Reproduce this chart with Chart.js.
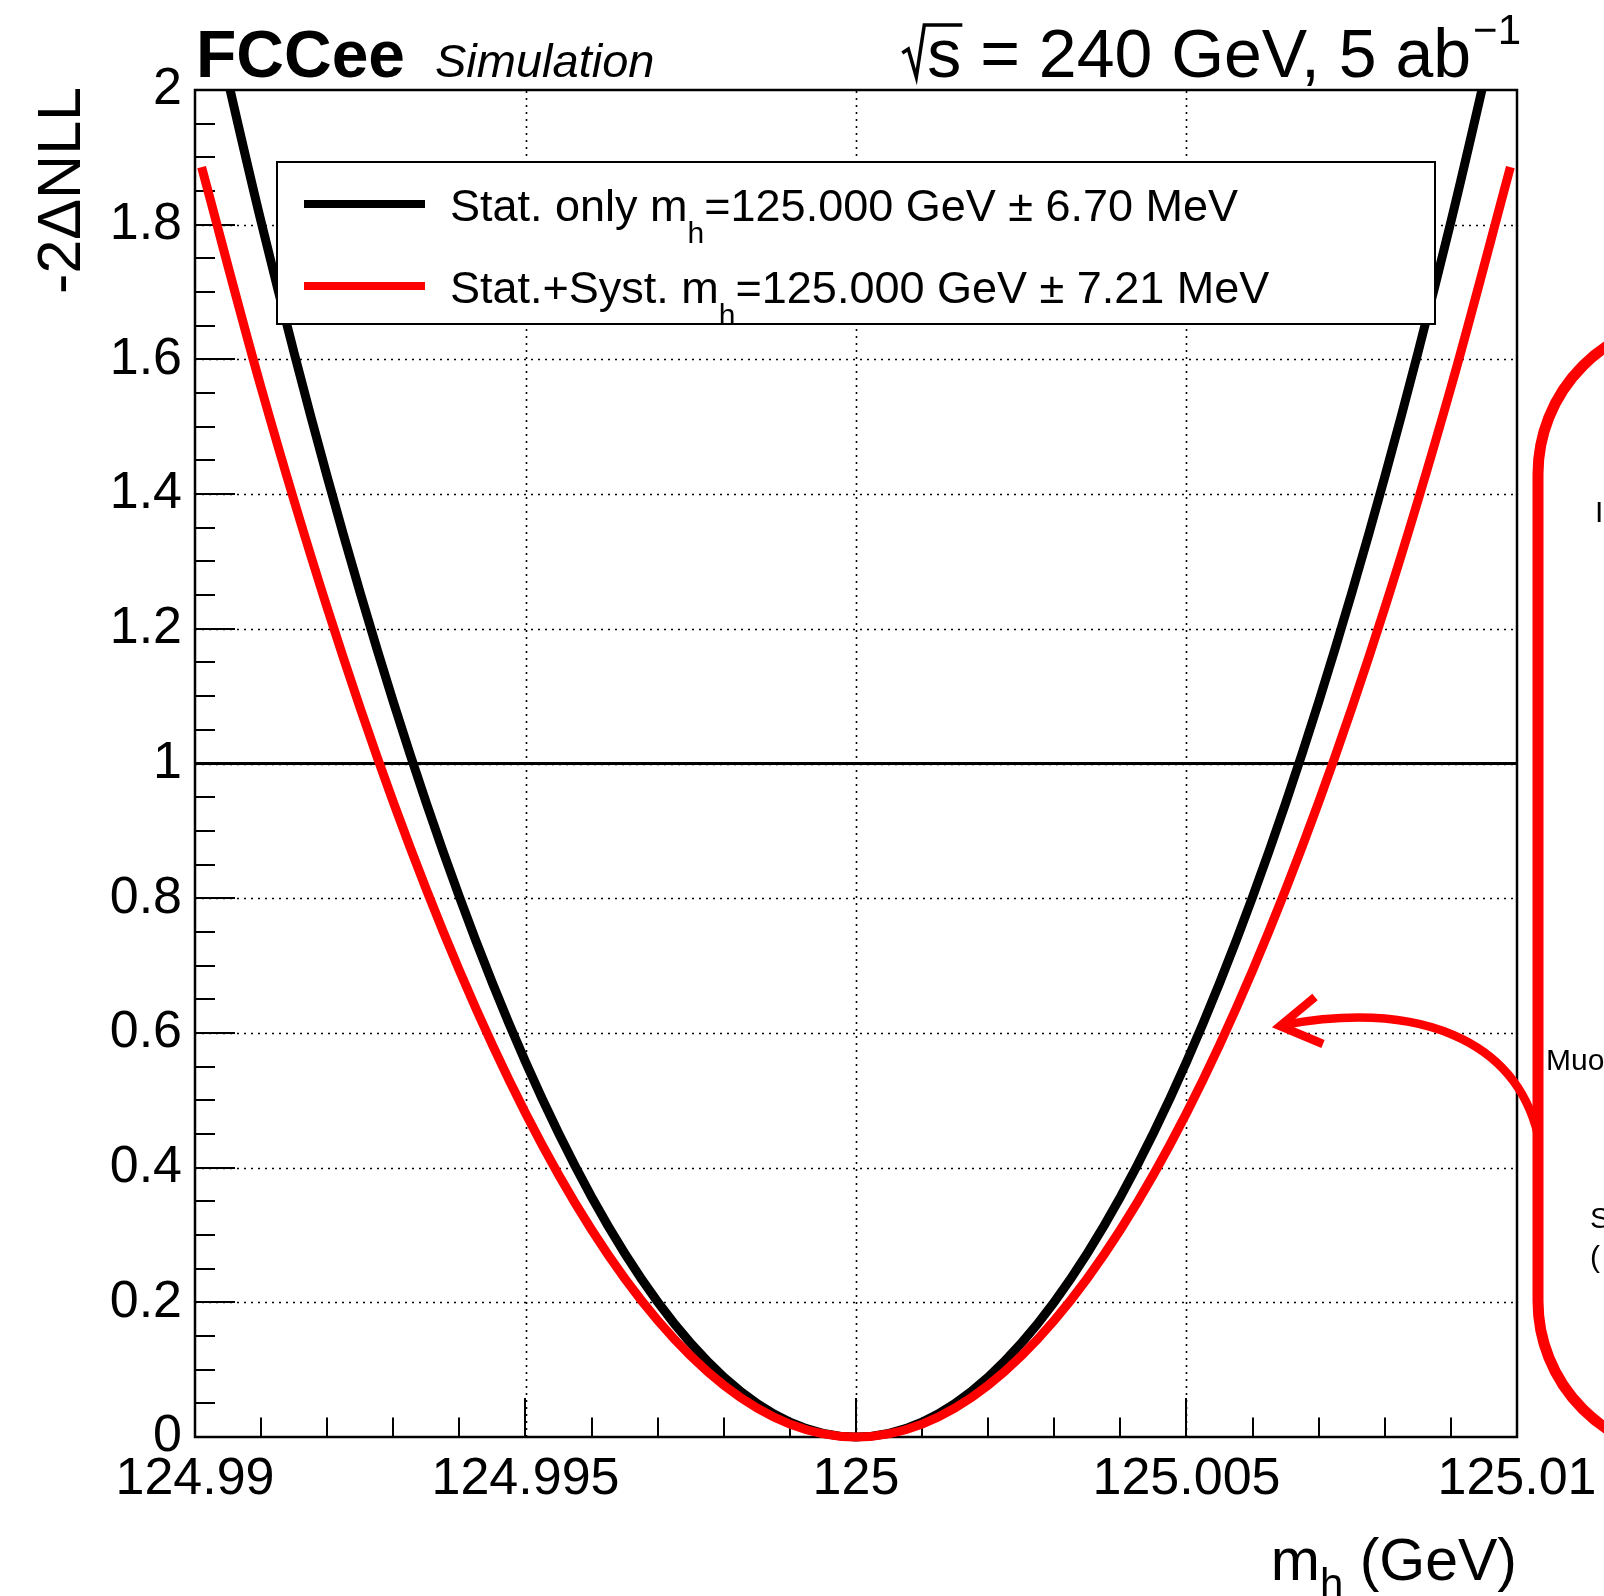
<!DOCTYPE html>
<html><head><meta charset="utf-8">
<script src="https://cdn.jsdelivr.net/npm/chart.js@4.4.1/dist/chart.umd.min.js"></script>
<style>html,body{margin:0;padding:0;background:#fff;overflow:hidden}canvas{display:block}</style>
</head><body>
<canvas id="c" width="1604" height="1596" style="width:1604px;height:1596px"></canvas>
<script>
const FONT = '"Liberation Sans", Arial, Helvetica, sans-serif';

// ---- data ----
const statOnlyMass = [124.990,124.991,124.992,124.993,124.994,124.995,124.996,124.997,124.998,124.999,125.000,
                      125.001,125.002,125.003,125.004,125.005,125.006,125.007,125.008,125.009,125.010];
const statOnlyNLL  = [2.2277,1.8044,1.4257,1.0916,0.8020,0.5569,0.3564,0.2005,0.0891,0.0223,0.0000,
                      0.0223,0.0891,0.2005,0.3564,0.5569,0.8020,1.0916,1.4257,1.8044,2.2277];
const statSystMass = [124.9901,124.991,124.992,124.993,124.994,124.995,124.996,124.997,124.998,124.999,125.000,
                      125.001,125.002,125.003,125.004,125.005,125.006,125.007,125.008,125.009,125.0099];
const statSystNLL  = [1.8854,1.5581,1.2311,0.9426,0.6926,0.4809,0.3077,0.1731,0.0769,0.0192,0.0000,
                      0.0192,0.0769,0.1731,0.3077,0.4809,0.6926,0.9426,1.2311,1.5581,1.8854];
const refLineMass = [124.99, 125.01];
const refLineNLL  = [1, 1];

const xTickValues = [124.99, 124.995, 125, 125.005, 125.01];
const xTickLabels = ['124.99', '124.995', '125', '125.005', '125.01'];
const yTickValues = [0, 0.2, 0.4, 0.6, 0.8, 1, 1.2, 1.4, 1.6, 1.8, 2];
const yTickLabels = ['0', '0.2', '0.4', '0.6', '0.8', '1', '1.2', '1.4', '1.6', '1.8', '2'];
const xMinorStep = 0.001;
const yMinorStep = 0.05;

const legendNames = ['Stat. only', 'Stat.+Syst.'];
const legendCentral = ['125.000', '125.000'];
const legendUncert = ['6.70', '7.21'];
const annotationTexts = ['I', 'Muon', 'S', '('];

function pts(xs, ys) { return xs.map((x, i) => ({x: x, y: ys[i]})); }

const framePlugin = {
  id: 'frame',
  beforeDatasetsDraw(chart) {
    const {ctx, chartArea: a, scales: {x, y}} = chart;
    ctx.save();
    ctx.strokeStyle = '#000';
    // dotted grid
    ctx.lineWidth = 1.6;
    ctx.setLineDash([2, 5]);
    xTickValues.slice(1, -1).forEach(v => {
      const px = Math.round(x.getPixelForValue(v)) + 0.5;
      ctx.beginPath(); ctx.moveTo(px, a.bottom); ctx.lineTo(px, a.top); ctx.stroke();
    });
    yTickValues.slice(1, -1).forEach(v => {
      const py = Math.round(y.getPixelForValue(v)) + 0.5;
      ctx.beginPath(); ctx.moveTo(a.left, py); ctx.lineTo(a.right, py); ctx.stroke();
    });
    ctx.setLineDash([]);
    // inward ticks
    ctx.lineWidth = 2;
    const nx = Math.round((x.max - x.min) / xMinorStep);
    for (let i = 1; i < nx; i++) {
      const v = x.min + i * xMinorStep;
      const major = i % 5 === 0;
      const px = Math.round(x.getPixelForValue(v));
      ctx.beginPath(); ctx.moveTo(px, a.bottom); ctx.lineTo(px, a.bottom - (major ? 39 : 19.5)); ctx.stroke();
    }
    const ny = Math.round((y.max - y.min) / yMinorStep);
    for (let i = 1; i < ny; i++) {
      const v = y.min + i * yMinorStep;
      const major = i % 4 === 0;
      const py = Math.round(y.getPixelForValue(v));
      ctx.beginPath(); ctx.moveTo(a.left, py); ctx.lineTo(a.left + (major ? 40 : 20), py); ctx.stroke();
    }
    // frame
    ctx.lineWidth = 2.5;
    ctx.strokeRect(a.left, a.top, a.right - a.left, a.bottom - a.top);
    ctx.restore();
  }
};

const overlayPlugin = {
  id: 'overlay',
  afterDraw(chart) {
    const {ctx, chartArea: a} = chart;
    ctx.save();
    ctx.fillStyle = '#000';
    ctx.textBaseline = 'alphabetic';
    // ---- legend ----
    ctx.fillStyle = '#fff';
    ctx.fillRect(277, 162, 1158, 162);
    ctx.strokeStyle = '#000'; ctx.lineWidth = 2;
    ctx.strokeRect(277, 162, 1158, 162);
    const legColors = [chart.data.datasets[1].borderColor, chart.data.datasets[0].borderColor];
    const lineYs = [204, 286];
    for (let i = 0; i < 2; i++) {
      const ly = lineYs[i];
      ctx.strokeStyle = legColors[i]; ctx.lineWidth = 8;
      ctx.beginPath(); ctx.moveTo(304, ly); ctx.lineTo(425, ly); ctx.stroke();
      ctx.fillStyle = '#000';
      let tx = 450; const base = ly + 17;
      ctx.font = '45px ' + FONT;
      const t1 = legendNames[i] + ' m';
      ctx.fillText(t1, tx, base); tx += ctx.measureText(t1).width;
      ctx.font = '30px ' + FONT;
      ctx.fillText('h', tx, base + 22); tx += ctx.measureText('h').width;
      ctx.font = '45px ' + FONT;
      ctx.fillText('=' + legendCentral[i] + ' GeV \u00B1 ' + legendUncert[i] + ' MeV', tx, base);
    }
    // ---- header ----
    ctx.fillStyle = '#000';
    ctx.font = 'bold 66px ' + FONT;
    ctx.fillText('FCCee', 196, 77);
    ctx.font = 'italic 47px ' + FONT;
    ctx.fillText('Simulation', 435, 77);
    // right header: sqrt(s) = 240 GeV, 5 ab^-1
    const hb = 77;
    ctx.font = '42px ' + FONT;
    const supW = ctx.measureText('\u22121').width;
    let xr = 1521 - supW;
    ctx.fillText('\u22121', xr, hb - 33);
    ctx.font = '68px ' + FONT;
    const mainT = ' = 240 GeV, 5 ab';
    const mW = ctx.measureText(mainT).width;
    xr -= mW + 2;
    ctx.fillText(mainT, xr, hb);
    const sW = ctx.measureText('s').width;
    const sx = xr - sW;
    ctx.fillText('s', sx, hb);
    // radical sign
    ctx.strokeStyle = '#000'; ctx.lineWidth = 3.5; ctx.lineJoin = 'miter';
    ctx.beginPath();
    ctx.moveTo(sx - 25, hb - 24);
    ctx.lineTo(sx - 19, hb - 28);
    ctx.lineTo(sx - 11, hb);
    ctx.lineTo(sx - 3, hb - 52);
    ctx.lineTo(sx + sW + 1, hb - 52);
    ctx.stroke();
    // ---- axis titles ----
    ctx.font = '59px ' + FONT;
    const gev = ' (GeV)';
    const gW = ctx.measureText(gev).width;
    const mW2 = ctx.measureText('m').width;
    ctx.font = '42px ' + FONT;
    const hW = ctx.measureText('h').width;
    let tx = a.right - gW - hW - mW2;
    ctx.font = '59px ' + FONT;
    ctx.fillText('m', tx, 1580); tx += mW2;
    ctx.font = '42px ' + FONT;
    ctx.fillText('h', tx, 1598); tx += hW;
    ctx.font = '59px ' + FONT;
    ctx.fillText(gev, tx, 1580);
    // y title
    ctx.save();
    ctx.translate(80, 87);
    ctx.rotate(-Math.PI / 2);
    ctx.textAlign = 'right';
    ctx.font = '61px ' + FONT;
    ctx.fillText('-2\u0394NLL', 0, 0);
    ctx.restore();
    // ---- right-side annotation fragment ----
    ctx.strokeStyle = '#ff0000'; ctx.lineWidth = 11; ctx.lineCap = 'butt';
    ctx.beginPath();
    ctx.arc(1691, 474, 153, Math.PI * 1.5, Math.PI, true);
    ctx.lineTo(1538, 1301);
    ctx.arc(1691, 1301, 153, Math.PI, Math.PI * 0.5, true);
    ctx.stroke();
    ctx.lineWidth = 8.5;
    ctx.beginPath();
    ctx.moveTo(1538, 1135);
    ctx.bezierCurveTo(1515, 1040, 1420, 1000, 1283, 1025);
    ctx.stroke();
    ctx.beginPath();
    ctx.moveTo(1315, 997); ctx.lineTo(1280, 1026); ctx.lineTo(1323, 1044);
    ctx.stroke();
    ctx.fillStyle = '#000';
    ctx.font = '30px ' + FONT;
    ctx.fillText(annotationTexts[0], 1595, 522);
    ctx.fillText(annotationTexts[1], 1546, 1070);
    ctx.fillText(annotationTexts[2], 1590, 1228);
    ctx.fillText(annotationTexts[3], 1590, 1267);
    ctx.restore();
  }
};

new Chart(document.getElementById('c'), {
  type: 'line',
  data: {
    datasets: [
      {label: 'Stat.+Syst.', data: pts(statSystMass, statSystNLL), borderColor: '#ff0000', borderWidth: 9,
       pointRadius: 0, cubicInterpolationMode: 'monotone', capBezierPoints: false, fill: false, order: 0,
       clip: {left: 8, top: 0, right: 8, bottom: 8}},
      {label: 'Stat. only', data: pts(statOnlyMass, statOnlyNLL), borderColor: '#000000', borderWidth: 9,
       pointRadius: 0, cubicInterpolationMode: 'monotone', capBezierPoints: false, fill: false, order: 1,
       clip: {left: 8, top: 0, right: 8, bottom: 8}},
      {label: 'ref', data: pts(refLineMass, refLineNLL), borderColor: '#000000', borderWidth: 3,
       pointRadius: 0, fill: false, order: 2}
    ]
  },
  options: {
    responsive: false, animation: false, devicePixelRatio: 1, events: [],
    layout: {padding: {left: 0, top: 90, right: 87, bottom: 0}},
    plugins: {legend: {display: false}, tooltip: {enabled: false}},
    scales: {
      x: {
        type: 'linear', min: 124.99, max: 125.01,
        afterBuildTicks(s) { s.ticks = xTickValues.map(v => ({value: v})); },
        afterFit(s) { s.height = 159; s.paddingLeft = 0; s.paddingRight = 0; s.paddingTop = 0; s.paddingBottom = 0; },
        ticks: {autoSkip: false, maxRotation: 0, minRotation: 0, padding: 11, color: '#000',
                font: {family: FONT, size: 52}, callback: (v, i) => xTickLabels[i]},
        grid: {display: false, drawTicks: false, tickLength: 0},
        border: {display: false}
      },
      y: {
        type: 'linear', min: 0, max: 2,
        afterBuildTicks(s) { s.ticks = yTickValues.map(v => ({value: v})); },
        afterFit(s) { s.width = 195; s.paddingLeft = 0; s.paddingRight = 0; s.paddingTop = 0; s.paddingBottom = 0; },
        ticks: {autoSkip: false, padding: 13, color: '#000',
                font: {family: FONT, size: 52}, callback: (v, i) => yTickLabels[i]},
        grid: {display: false, drawTicks: false, tickLength: 0},
        border: {display: false}
      }
    }
  },
  plugins: [framePlugin, overlayPlugin]
});
</script>
</body></html>
